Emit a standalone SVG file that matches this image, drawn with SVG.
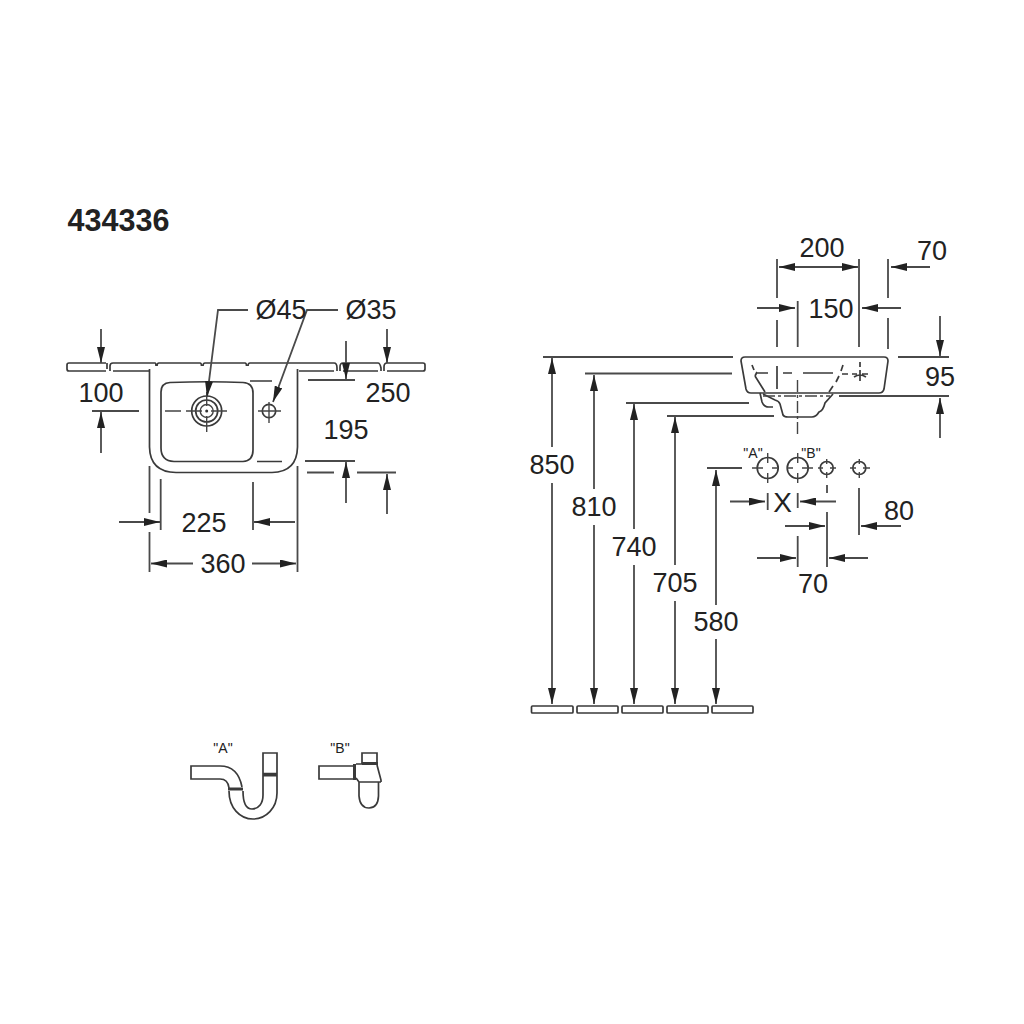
<svg xmlns="http://www.w3.org/2000/svg" width="1024" height="1024" viewBox="0 0 1024 1024">
<defs>
<marker id="a" viewBox="0 0 16 8" refX="16" refY="4" markerWidth="16" markerHeight="8" markerUnits="userSpaceOnUse" orient="auto-start-reverse"><path d="M0 0L16 4L0 8Z" fill="#222"/></marker>
</defs>
<style>
.l{fill:none;stroke:#3a3a3a;stroke-width:1.7}
.t{fill:none;stroke:#444;stroke-width:1.4}
.h{fill:none;stroke:#3a3a3a;stroke-width:3}
.d{fill:none;stroke:#4a4a4a;stroke-width:1.8}
.a{fill:none;stroke:#4a4a4a;stroke-width:1.8;marker-end:url(#a)}
.b{fill:none;stroke:#4a4a4a;stroke-width:1.8;marker-start:url(#a);marker-end:url(#a)}
text{font-family:"Liberation Sans",Arial,sans-serif;fill:#222;font-size:27px;text-anchor:middle}
.s{font-size:14px}
</style>
<rect width="1024" height="1024" fill="#fff"/>
<text x="118.500" y="231" style="font-weight:700;font-size:30.500px">434336</text>
<g id="wall-top">
<path class="l" d="M106 363H69Q67 363 67 365V369Q67 371 69 371H106M107 363V369M110 371V366Q110 363 113 363H155Q156 363 156 366M113 371H149M157 366Q157 363 159 363H200Q201.500 363 201.500 366M203 366Q203 363 205 363H245Q246.500 363 246.500 366M248 366Q248 363 250 363H334Q337 363 337 368V371M299 371H334M340 371V367Q340 363 343 363H378Q380 363 381 368V371M343 371H378M384 371V367Q384 363 387 363H423Q425 363 425 365V369Q425 371 423 371H387"/>
</g>
<g id="basin-top">
<path class="l" d="M149.500 369V447Q150 472 176 472.500H272Q297 472 297.500 447V369"/>
<path class="l" d="M170 382.500Q210 381 243 382.500Q253 383 253 393V450Q253 461 243 461.500H174Q161 461 161 448V392Q161 383 170 382.500Z"/>
<circle class="l" cx="206.700" cy="411" r="15"/><circle class="l" cx="206.700" cy="411" r="11"/><circle class="t" cx="206.700" cy="411" r="6.500"/><circle cx="206.700" cy="411" r="1.500" fill="#333"/>
<path class="t" d="M186 411H202M211 411H227M206.700 392V406M206.700 416V432M165 411H181"/>
<circle class="l" cx="269" cy="411" r="6.700"/>
<path class="t" d="M258 411H281M269 402V423"/>
<path class="l" d="M250 381H272M257 461.500H282"/>
</g>
<g id="basin-side">
<path class="l" d="M741 361Q741 357 745 357H884Q888 357 888 361L884 389Q883 393 879 393H751Q747 393 746 389Z"/>
<path class="l" d="M760 393L762 402Q764 407 769 407H773M763 394L775 400Q779 401 780 404L783 415Q784 417 788 417H812Q816 417 819 412Q823 411 825 403L833 394"/>
<path class="l" d="M752 365L754 370M757 372L755 376M755 376L765 392M757 373H768M777 366V389M783 373H792M803 373H833M843 365L841 371M839 376L836 382M833 386L829 392M842 374H848"/>
<path class="t" d="M763 396H830M797.500 380V436" stroke-dasharray="12 3 3 3"/>
<path class="l" d="M852 374H857M862 374H868M860 362V367M860 370V381M854 377Q860 373 866 377"/>
</g>
<g id="holes">
<circle class="l" cx="767.700" cy="468" r="10.500"/><circle class="l" cx="797.700" cy="468" r="10.500"/><circle class="l" cx="826.700" cy="468" r="6.500"/><circle class="l" cx="859.300" cy="468" r="6.500"/>
<path class="t" d="M752 468H763M772 468H778M767.700 453V463M767.700 473V483M787 468H793M802 468H813M797.700 453V463M797.700 473V483M818 468H823M830 468H836M826.700 459V464M826.700 472V478M850 468H856M863 468H870M859.300 459V464M859.300 472V478"/>
</g>
<g id="traps">
<path class="l" d="M220 766H191V779H220Q228 779 229 788M220 766Q238 766 242 787M229 791C229 808 240 819 253 819C266 819 277 808 277 793V753H263V795C263 803 259 809 252 809C246 809 243 803 243 791M263 773.500H277"/>
<path class="h" d="M228 789H243M263 775H277"/>
<path class="l" d="M353 766H319V779H353M356 764H362V753H377V764M377 765L381 780V782M356 778L359 782H381M359 782V796Q360 808 369 808Q378 808 378.500 796V782"/>
<path class="h" d="M354.500 764V780M362 763.500H378"/>
</g>
<g id="connectors">
<path class="a" d="M248 310H218L207 397"/>
<path class="a" d="M338 310H307L273 402"/>
<path class="a" d="M101 329V363"/><path class="a" d="M101 453V412"/><path class="d" d="M92 411H139"/>
<path class="a" d="M346 341V379"/><path class="d" d="M308 380H355"/>
<path class="a" d="M387 329V363"/>
<path class="a" d="M346 503V462"/><path class="d" d="M305 461H355M307 472.500H334M357 472.500H396"/>
<path class="a" d="M387 514V474"/>
<path class="d" d="M149.500 466V513M297.500 466V572M149.500 532V572M160.700 479V530M253 482V530"/>
<path class="a" d="M119 522H160"/><path class="a" d="M295 522H254"/>
<path class="a" d="M193 563.500H151"/><path class="a" d="M252 563.500H296"/>
<path class="d" d="M777 259V298M859 259V347M888 259V298M777 320V347M797.700 301V347M888 318V349"/>
<path class="b" d="M779 267H858"/>
<path class="a" d="M930 267H891"/>
<path class="a" d="M757 308H795"/><path class="a" d="M901 308H862"/>
<path class="d" d="M898 357H949M839 396H949"/>
<path class="a" d="M940 316V356"/><path class="a" d="M940 438V398"/>
<path class="d" d="M543 357H733M585 373.500H732M626 403H749M667 416H774M707 468H742"/>
<path class="a" d="M552 447V358"/><path class="a" d="M552 483V704"/>
<path class="a" d="M594 489V375"/><path class="a" d="M594 525V704"/>
<path class="a" d="M634 529V404"/><path class="a" d="M634 565V704"/>
<path class="a" d="M675 565V417"/><path class="a" d="M675 601V704"/>
<path class="a" d="M716 605V470"/><path class="a" d="M716 639V704"/>
<path class="d" d="M767.700 493V510M797.700 493V508M827 485V493M827 512V567M859 488V535M797.700 536V567"/>
<path class="a" d="M730 501.500H765"/><path class="a" d="M836 501.500H800"/>
<path class="a" d="M785 526H825"/><path class="a" d="M901 526H861"/>
<path class="a" d="M757 558H796"/><path class="a" d="M868 558H829"/>
</g>
<g id="floor">
<rect class="l" x="531.500" y="706" width="41.500" height="7" rx="1"/><rect class="l" x="577" y="706" width="41" height="7" rx="1"/><rect class="l" x="622" y="706" width="41" height="7" rx="1"/><rect class="l" x="667" y="706" width="41" height="7" rx="1"/><rect class="l" x="712" y="706" width="41" height="7" rx="1"/>
</g>
<g id="labels">
<text x="281" y="319">Ø45</text><text x="371" y="319">Ø35</text>
<text x="101" y="402">100</text><text x="388" y="402">250</text><text x="346" y="439">195</text>
<text x="204" y="532">225</text><text x="223" y="573">360</text>
<text x="822" y="257">200</text><text x="932" y="260">70</text><text x="831" y="318">150</text><text x="940" y="386">95</text>
<text x="552" y="474">850</text><text x="594" y="516">810</text><text x="634" y="556">740</text><text x="675" y="592">705</text><text x="716" y="631">580</text>
<text x="782.700" y="512" style="font-size:28px">X</text><text x="899" y="520">80</text><text x="813" y="593">70</text>
<text class="s" x="753" y="458">"A"</text><text class="s" x="811" y="458">"B"</text>
<text class="s" x="223" y="753">"A"</text><text class="s" x="340" y="753">"B"</text>
</g>
</svg>
